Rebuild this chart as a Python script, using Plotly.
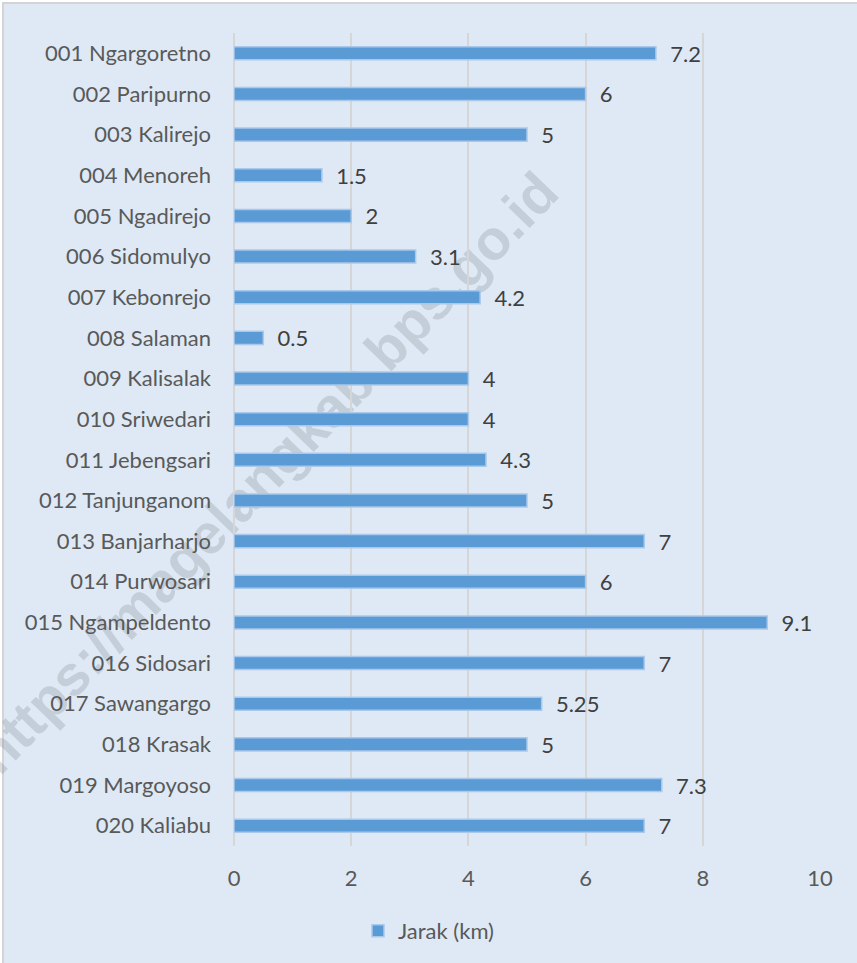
import plotly.graph_objects as go

categories = [
    "001 Ngargoretno", "002 Paripurno", "003 Kalirejo", "004 Menoreh", "005 Ngadirejo",
    "006 Sidomulyo", "007 Kebonrejo", "008 Salaman", "009 Kalisalak", "010 Sriwedari",
    "011 Jebengsari", "012 Tanjunganom", "013 Banjarharjo", "014 Purwosari",
    "015 Ngampeldento", "016 Sidosari", "017 Sawangargo", "018 Krasak",
    "019 Margoyoso", "020 Kaliabu",
]
jarak = [7.2, 6, 5, 1.5, 2, 3.1, 4.2, 0.5, 4, 4, 4.3, 5, 7, 6, 9.1, 7, 5.25, 5, 7.3, 7]
value_labels = ["7.2", "6", "5", "1.5", "2", "3.1", "4.2", "0.5", "4", "4", "4.3", "5",
                "7", "6", "9.1", "7", "5.25", "5", "7.3", "7"]
x_ticks = [0, 2, 4, 6, 8, 10]
series_name = "Jarak (km)"
watermark = "https://magelangkab.bps.go.id"

FONT = "Lato"
BG = "#dee9f5"

fig = go.Figure()
fig.add_trace(go.Bar(
    y=categories, x=jarak, orientation="h", name=series_name,
    marker=dict(color="#5b9bd5", line=dict(color="#a9c8ea", width=1.5)),
    width=0.32,
    text=["\u00a0\u00a0" + t for t in value_labels],
    textposition="outside", cliponaxis=False, constraintext="none",
    textfont=dict(family=FONT, size=22, color="#404040"),
    showlegend=True,
))

# plot area: x 234..820, y 33..846
L, R, T, B = 234, 857 - 820, 33, 963 - 846
W, H = 857 - L - R, 963 - T - B

def px(x):
    return (x - L) / W

def py(y):
    return (963 - B - y) / H

shapes = [
    dict(type="rect", xref="paper", yref="paper", layer="below",
         x0=px(3), x1=px(870), y0=py(975), y1=py(3),
         fillcolor=BG, line=dict(color="#d4d4d4", width=2)),
    dict(type="rect", xref="paper", yref="paper", layer="below",
         x0=px(258), x1=px(268), y0=py(474), y1=py(464),
         fillcolor="rgba(0,0,0,0)", line=dict(width=0),
         label=dict(text=watermark, textangle=-46, textposition="middle center",
                    font=dict(family="Liberation Sans", size=56, color="rgba(120,130,140,0.26)",
                              weight="bold"))),
]

fig.update_layout(
    width=857, height=963,
    margin=dict(l=L, r=R, t=T, b=B, pad=0),
    paper_bgcolor="white", plot_bgcolor="rgba(0,0,0,0)",
    font=dict(family=FONT, size=22, color="#595959"),
    shapes=shapes,
    legend=dict(orientation="h", xref="container", yref="container",
                x=0.5, xanchor="center", y=1 - 931 / 963, yanchor="middle",
                font=dict(family=FONT, size=22, color="#595959"),
                bgcolor="rgba(0,0,0,0)", itemwidth=30),
    xaxis=dict(range=[0, 10], tickvals=x_ticks, showgrid=True, gridcolor="#d6d6d6",
               gridwidth=1.5, zeroline=True, zerolinecolor="#d6d6d6", zerolinewidth=1.5,
               showline=False, ticks="", ticklabelstandoff=17,
               tickfont=dict(family=FONT, size=22, color="#595959")),
    yaxis=dict(type="category", autorange="reversed", showgrid=False, zeroline=False,
               showline=False, ticks="", ticklabelstandoff=22,
               tickfont=dict(family=FONT, size=22, color="#595959")),
)

fig.write_html("out.html", config={"displayModeBar": False},
               post_script="document.body.style.margin='0';")
